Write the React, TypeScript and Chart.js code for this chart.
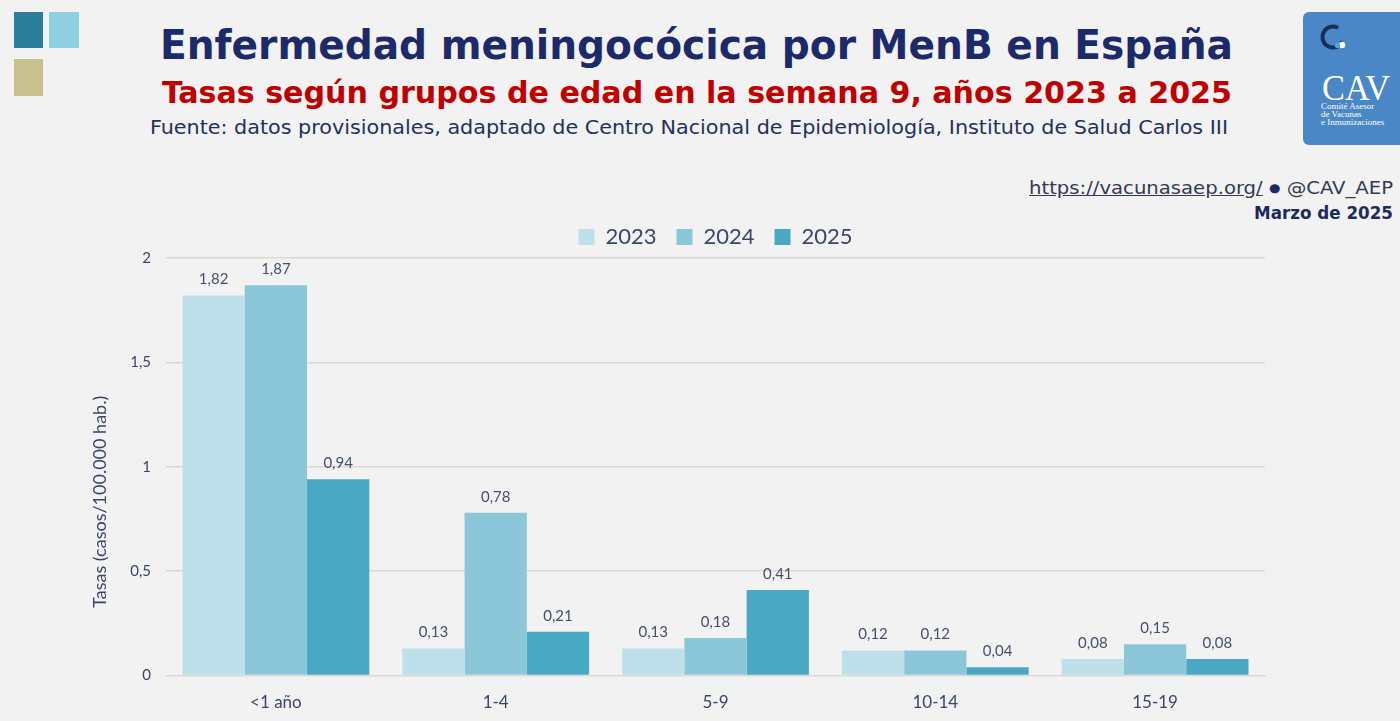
import React, { useEffect, useLayoutEffect, useRef } from "react";
import { Chart, registerables } from "chart.js";

Chart.register(...registerables);

// ---- Data ----
const categories = ["<1 año", "1-4", "5-9", "10-14", "15-19"];
const seriesLabels = ["2023", "2024", "2025"];
const values2023 = [1.82, 0.13, 0.13, 0.12, 0.08];
const values2024 = [1.87, 0.78, 0.18, 0.12, 0.15];
const values2025 = [0.94, 0.21, 0.41, 0.04, 0.08];
const yTicks = [0, 0.5, 1, 1.5, 2];
const yAxisTitle = "Tasas (casos/100.000 hab.)";

const seriesColors = ["#bde0ea", "#8bc7d9", "#49a9c4"];
const textColor = "#3a4668";
const chartFont = "Lato";

const fmtLabel = (v: number) => v.toFixed(2).replace(".", ",");
const fmtTick = (v: number) => String(v).replace(".", ",");

type FitProps = {
  left: number;
  top: number;
  width: number;
  style?: React.CSSProperties;
  children: React.ReactNode;
};

function FitText({ left, top, width, style, children }: FitProps) {
  const ref = useRef<HTMLSpanElement>(null);
  useLayoutEffect(() => {
    const fit = () => {
      const el = ref.current;
      if (!el) return;
      el.style.transform = "none";
      const w = el.getBoundingClientRect().width;
      if (w > 0) el.style.transform = `scaleX(${width / w})`;
    };
    fit();
    if ((document as any).fonts && (document as any).fonts.ready) {
      (document as any).fonts.ready.then(fit);
    }
  }, [width]);
  return (
    <span
      ref={ref}
      style={{
        position: "absolute",
        left,
        top,
        whiteSpace: "nowrap",
        transformOrigin: "0 0",
        lineHeight: 1,
        display: "inline-block",
        ...style,
      }}
    >
      {children}
    </span>
  );
}

const dataLabelPlugin = {
  id: "dataLabels",
  afterDatasetsDraw(chart: any) {
    const ctx = chart.ctx;
    ctx.save();
    ctx.font = `15px ${chartFont}`;
    ctx.fillStyle = "#44506a";
    ctx.textAlign = "center";
    ctx.textBaseline = "middle";
    chart.data.datasets.forEach((ds: any, i: number) => {
      const meta = chart.getDatasetMeta(i);
      meta.data.forEach((bar: any, j: number) => {
        ctx.fillText(fmtLabel(ds.data[j]), bar.x, bar.y - 16);
      });
    });
    ctx.restore();
  },
};

const yTitlePlugin = {
  id: "yTitle",
  afterDraw(chart: any) {
    const ctx = chart.ctx;
    const area = chart.chartArea;
    ctx.save();
    ctx.font = `18px ${chartFont}`;
    ctx.fillStyle = textColor;
    ctx.textAlign = "center";
    ctx.textBaseline = "middle";
    ctx.translate(100, (area.top + area.bottom) / 2 + 35);
    ctx.rotate(-Math.PI / 2);
    ctx.fillText(yAxisTitle, 0, 0);
    ctx.restore();
  },
};

function BarChart() {
  const canvasRef = useRef<HTMLCanvasElement>(null);
  useEffect(() => {
    if (!canvasRef.current) return;
    const allValues = [values2023, values2024, values2025];
    const chart = new Chart(canvasRef.current, {
      type: "bar",
      data: {
        labels: categories,
        datasets: seriesLabels.map((label, i) => ({
          label,
          data: allValues[i],
          backgroundColor: seriesColors[i],
          borderWidth: 0,
          categoryPercentage: 0.85,
          barPercentage: 1,
        })),
      },
      options: {
        responsive: false,
        animation: false,
        devicePixelRatio: 1,
        layout: { padding: { left: 0, right: 35, top: 6, bottom: 9 } },
        plugins: {
          legend: {
            position: "top",
            fullSize: false,
            labels: {
              font: { family: chartFont, size: 22 },
              color: textColor,
              boxWidth: 16,
              boxHeight: 16,
              padding: 20,
            },
          },
          tooltip: { enabled: false },
        },
        scales: {
          x: {
            grid: { display: false, drawTicks: false },
            border: { display: true, color: "#d9d9d9" },
            ticks: {
              font: { family: chartFont, size: 17 },
              color: textColor,
              padding: 17,
            },
          },
          y: {
            min: 0,
            max: 2,
            grid: { color: "#dcdad0", lineWidth: 1.5, drawTicks: false },
            border: { display: false },
            ticks: {
              padding: 15,
              font: { family: chartFont, size: 15 },
              color: textColor,
              callback: (v: any) => fmtTick(Number(v)),
            },
            afterBuildTicks: (s: any) => {
              s.ticks = yTicks.map((v) => ({ value: v }));
            },
            afterFit: (s: any) => {
              s.width = 166;
            },
          },
        },
      },
      plugins: [dataLabelPlugin, yTitlePlugin],
    } as any);
    return () => chart.destroy();
  }, []);
  return (
    <canvas
      ref={canvasRef}
      width={1300}
      height={539}
      style={{ position: "absolute", left: 0, top: 200, width: 1300, height: 539 }}
    />
  );
}

export default function App() {
  return (
    <div
      style={{
        position: "absolute",
        left: 0,
        top: 0,
        width: 1400,
        height: 721,
        background: "#f2f2f2",
        overflow: "hidden",
        fontFamily: "DejaVu Sans",
      }}
    >
      {/* decorative squares */}
      <div style={{ position: "absolute", left: 14, top: 12, width: 29, height: 36, background: "#2b7d99" }} />
      <div style={{ position: "absolute", left: 49, top: 12, width: 30, height: 36, background: "#8fcfe2" }} />
      <div style={{ position: "absolute", left: 14, top: 59, width: 29, height: 37, background: "#c8c08f" }} />

      {/* titles */}
      <FitText
        left={160}
        top={25}
        width={1073}
        style={{ fontFamily: "DejaVu Sans Condensed", fontWeight: 700, fontSize: 40, color: "#1c2a6b" }}
      >
        Enfermedad meningocócica por MenB en España
      </FitText>
      <FitText
        left={162}
        top={78}
        width={1070}
        style={{ fontFamily: "DejaVu Sans Condensed", fontWeight: 700, fontSize: 30, color: "#c00000" }}
      >
        Tasas según grupos de edad en la semana 9, años 2023 a 2025
      </FitText>
      <FitText
        left={150}
        top={117}
        width={1078}
        style={{ fontFamily: "DejaVu Sans Condensed", fontSize: 20, color: "#24305e" }}
      >
        Fuente: datos provisionales, adaptado de Centro Nacional de Epidemiología, Instituto de Salud Carlos III
      </FitText>

      {/* logo */}
      <div
        style={{
          position: "absolute",
          left: 1303,
          top: 12,
          width: 110,
          height: 133,
          background: "#4a87c6",
          borderRadius: 6,
        }}
      >
        <svg width={44} height={44} style={{ position: "absolute", left: 10, top: 6 }}>
          <circle cx={20} cy={19} r={10.5} fill="none" stroke="#16305a" strokeWidth={4} strokeDasharray="50 16" transform="rotate(25 20 19)" />
          <circle cx={29} cy={27} r={3.2} fill="#ffffff" />
          <circle cx={24.5} cy={27.5} r={2.6} fill="#3fb0e6" />
        </svg>
      </div>
      <FitText
        left={1322}
        top={70}
        width={68}
        style={{ fontFamily: "Liberation Serif", fontSize: 36, color: "#ffffff" }}
      >
        CAV
      </FitText>
      <div
        style={{
          position: "absolute",
          left: 1321,
          top: 102,
          fontFamily: "Liberation Serif",
          fontSize: 9,
          lineHeight: "8px",
          color: "#ffffff",
          whiteSpace: "nowrap",
        }}
      >
        Comité Asesor
        <br />
        de Vacunas
        <br />
        e Inmunizaciones
      </div>

      {/* link and date */}
      <FitText
        left={1029}
        top={179}
        width={364}
        style={{ fontFamily: "DejaVu Sans Condensed", fontSize: 18, color: "#333a4f" }}
      >
        <span style={{ textDecoration: "underline" }}>https://vacunasaep.org/</span>
        <span style={{ color: "#1c2a6b" }}>{" "}</span>
        <span style={{ color: "#1c2a6b", fontSize: 12, verticalAlign: "2px" }}>●</span>
        <span>{" "}@CAV_AEP</span>
      </FitText>
      <FitText
        left={1254}
        top={205}
        width={139}
        style={{ fontFamily: "DejaVu Sans Condensed", fontWeight: 700, fontSize: 17, color: "#1c2a5e" }}
      >
        Marzo de 2025
      </FitText>

      <BarChart />
    </div>
  );
}
